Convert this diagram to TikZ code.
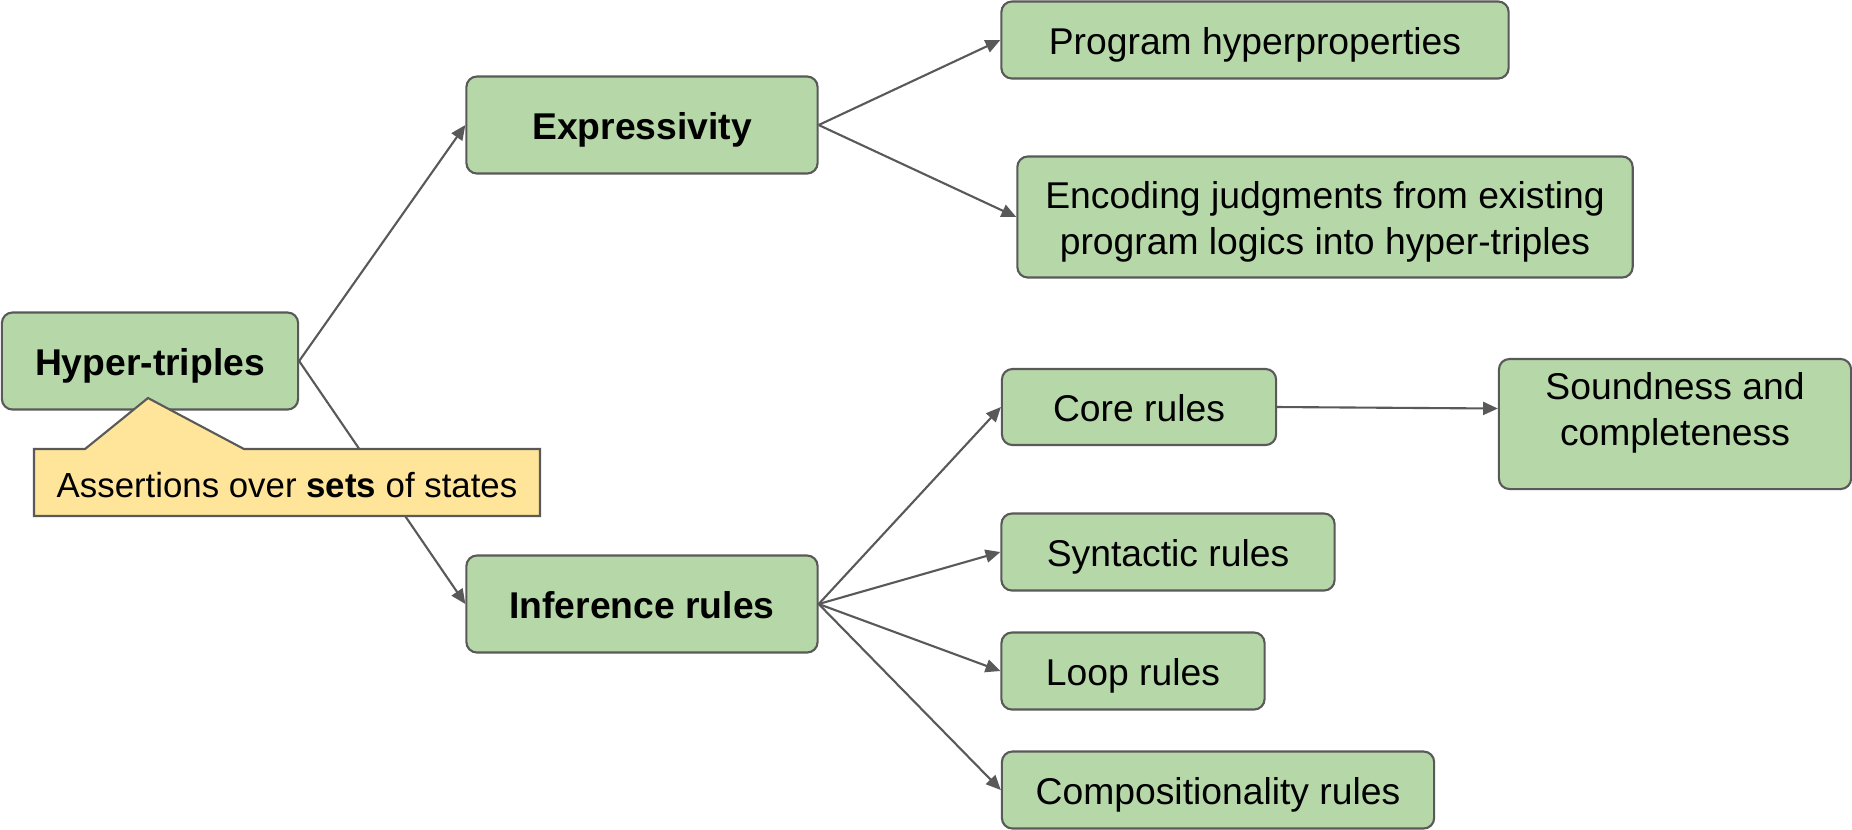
\documentclass[tikz,border=0pt]{standalone}
\usepackage{xcolor}
\usepackage{fontspec}
\setmainfont{Liberation Sans}
\usepackage{tikz}
\usetikzlibrary{calc,positioning,arrows.meta}

\definecolor{boxgreen}{HTML}{B6D7A8}
\definecolor{notefill}{HTML}{FFE599}
\definecolor{edgegray}{HTML}{595959}

\begin{document}
\begin{tikzpicture}[
            x=0.01cm, y=-0.01cm,
            topic/.style={draw=edgegray, fill=boxgreen, line width=0.6pt, rounded corners=3pt,
                          align=center, inner sep=0pt, text height=1.05em, text depth=0.212em,
                          font=\fontsize{10.6}{13}\selectfont},
            main/.style={topic, font=\fontsize{10.6}{13}\selectfont\bfseries},
            link/.style={draw=edgegray, line width=0.6pt, -{Triangle[length=4.2pt, width=3.7pt]}},
          ]
          \useasboundingbox (0,0) rectangle (1852,829);
          % left and middle column
          \node[main, minimum width=2.96cm, minimum height=0.97cm] (hyper) at (150,361) {Hyper-triples};
          \node[main, minimum width=3.51cm, minimum height=0.97cm] (expr) at (642,125) {Expressivity};
          \node[main, minimum width=3.51cm, minimum height=0.97cm] (infer) at (642,604) {Inference rules};
          % right column
          \node[topic, minimum width=5.07cm, minimum height=0.77cm] (prog) at (1255,40) {Program hyperproperties};
          \node[topic, minimum width=6.15cm, minimum height=1.21cm, text height=1.05em+13pt] (enc) at (1325,217) {Encoding judgments from existing\\program logics into hyper-triples};
          \node[topic, minimum width=2.74cm, minimum height=0.76cm] (core) at (1139,407) {Core rules};
          \node[topic, minimum width=3.52cm, minimum height=1.30cm, text height=1.05em+13pt, text depth=0.212em+9.4pt] (sound) at (1675,424) {Soundness and\\completeness};
          \node[topic, minimum width=3.33cm, minimum height=0.77cm] (synt) at (1168,552) {Syntactic rules};
          \node[topic, minimum width=2.63cm, minimum height=0.77cm] (loop) at (1133,671) {Loop rules};
          \node[topic, minimum width=4.32cm, minimum height=0.77cm] (comp) at (1218,790) {Compositionality rules};

          \draw[link] (hyper.east) -- (expr.west);
          \draw[link] (hyper.east) -- (infer.west);
          \draw[link] (expr.east) -- (prog.west);
          \draw[link] (expr.east) -- (enc.west);
          \draw[link] (infer.east) -- (core.west);
          \draw[link] (infer.east) -- (synt.west);
          \draw[link] (infer.east) -- (loop.west);
          \draw[link] (infer.east) -- (comp.west);
          \draw[link] (core.east) -- ($(core.east -| sound.west)+(0,1.5)$);

          % callout
          \filldraw[draw=edgegray, fill=notefill, line width=0.6pt]
            (34,449) -- (85,449) -- (148,398) -- (244,449) -- (540,449)
            -- (540,516) -- (34,516) -- cycle;
          \node[font=\fontsize{9.9}{12}\selectfont, text height=1.05em, text depth=0.212em] (note) at (287,483) {Assertions over \textbf{sets} of states};
        \end{tikzpicture}
\end{document}
